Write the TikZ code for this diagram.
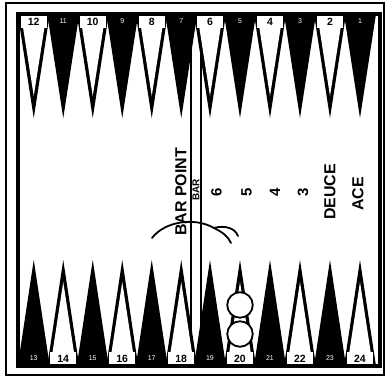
\documentclass[tikz,border=0pt]{standalone}
\usepackage{fontspec}
\setmainfont{Liberation Sans}
\begin{document}
\begin{tikzpicture}[x=1bp,y=-1bp,
  wlab/.style={font=\fontsize{10.5}{10.5}\selectfont\bfseries, text=black, inner sep=0},
  blab/.style={font=\fontsize{7}{7}\selectfont, text=white, inner sep=0},
  word/.style={rotate=90, inner sep=0, font=\fontsize{16}{16}\selectfont\bfseries},
  numtxt/.style={rotate=90, inner sep=0, font=\fontsize{15}{15}\selectfont\bfseries},
  checker/.style={circle, draw=black, fill=white, line width=1.8bp, minimum size=25.5bp, inner sep=0},
  frameline/.style={line width=1.5bp},
  boardline/.style={line width=3.5bp},
  stroke/.style={line width=1.8bp, line cap=round}]
\useasboundingbox (0,0) rectangle (392,378);
\fill[white] (0,0) rectangle (392,378);
% bar lines (beneath the points)
\draw[frameline] (191,13) -- (191,367) (201,13) -- (201,367);
% top points
\foreach \cx/\n in {33.75/12, 63.25/11, 92.75/10, 122.25/9, 151.75/8, 181.25/7, 210/6, 240/5, 270/4, 300/3, 330/2, 360/1}{
  \ifodd\n\relax
    \fill[black] ({\cx-16},14) -- ({\cx+16},14) -- (\cx,118) -- cycle;
    \node[blab] (t\n) at (\cx,21.5) {\n};
  \else
    \fill[black] ({\cx-16},14) -- ({\cx+16},14) -- (\cx,118) -- cycle;
    \fill[white] ({\cx-12.8},14) -- ({\cx+12.8},14) -- (\cx,96) -- cycle;
    \fill[white] ({\cx-12.8},15) rectangle ({\cx+12.8},28);
    \node[wlab] (t\n) at (\cx,21.5) {\n};
  \fi
}
% bottom points
\foreach \cx/\n in {33.75/13, 63.25/14, 92.75/15, 122.25/16, 151.75/17, 181.25/18, 210/19, 240/20, 270/21, 300/22, 330/23, 360/24}{
  \ifodd\n\relax
    \fill[black] ({\cx-16},366) -- ({\cx+16},366) -- (\cx,260) -- cycle;
    \node[blab] (b\n) at (\cx,358.5) {\n};
  \else
    \fill[black] ({\cx-16},366) -- ({\cx+16},366) -- (\cx,260) -- cycle;
    \fill[white] ({\cx-12.8},366) -- ({\cx+12.8},366) -- (\cx,282) -- cycle;
    \fill[white] ({\cx-12.8},352) rectangle ({\cx+12.8},365);
    \node[wlab] (b\n) at (\cx,358.5) {\n};
  \fi
}
% board border and outer frame
\draw[boardline] (18,14) rectangle (380,366);
\draw[frameline] (6,3) rectangle (384,375);
% checkers on point 20
\node[checker] (c1) at (240,305) {};
\node[checker] (c2) at (240,334) {};
% middle labels
\node[word] (barpoint) at (181,192) {BAR POINT};
\node[rotate=90, inner sep=0, font=\fontsize{10}{10}\selectfont\bfseries] (bar) at (196,190) {BAR};
\node[numtxt] (n6) at (216.5,192) {6};
\node[numtxt] (n5) at (246.5,192) {5};
\node[numtxt] (n4) at (275,192) {4};
\node[numtxt] (n3) at (303,192) {3};
\node[word] (deuce) at (330,192) {DEUCE};
\node[word] (ace) at (358,194) {ACE};
% curved arrow
\coordinate (a0) at (152,238);
\coordinate (a1) at (214,228);
\coordinate (a2) at (238,236);
\coordinate (a3) at (231,243);
\draw[stroke] (a0) .. controls (165,221) and (195,217) .. (a1);
\draw[stroke] (a1) .. controls (225,225) and (235,228) .. (a2);
\draw[stroke] (a1) .. controls (222,232) and (228,236) .. (a3);
\end{tikzpicture}
\end{document}
